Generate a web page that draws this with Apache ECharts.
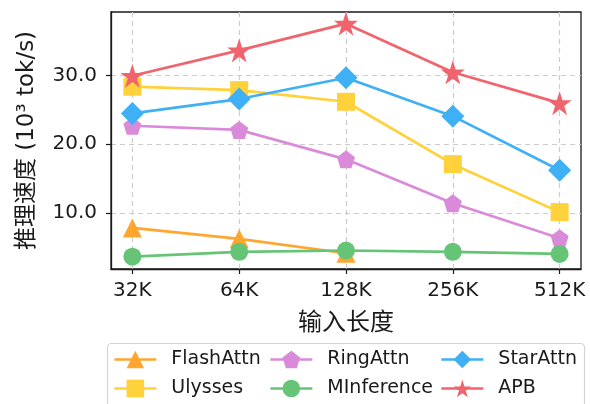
<!DOCTYPE html>
<html>
<head>
<meta charset="utf-8">
<script src="https://cdn.jsdelivr.net/npm/echarts@6/dist/echarts.min.js"></script>
<style>
  html, body { margin: 0; padding: 0; background: #fff; }
  #chart { width: 590px; height: 404px; }
</style>
</head>
<body>
<div id="chart"></div>
<script>
// Input lengths (x categories)
const categories = ['32K', '64K', '128K', '256K', '512K'];
// y-axis tick values (10^3 tok/s)
const yTicks = [10, 20, 30];

// Throughput per method, 10^3 tok/s
const flashAttn  = [7.8, 6.2, 4.1];
const ulysses    = [28.4, 27.9, 26.2, 17.1, 10.1];
const ringAttn   = [22.7, 22.1, 17.8, 11.4, 6.3];
const mInference = [3.6, 4.3, 4.5, 4.3, 4.0];
const starAttn   = [24.5, 26.6, 29.7, 24.1, 16.2];
const apb        = [30.0, 33.7, 37.6, 30.5, 26.0];

const FONT = "'DejaVu Sans', 'Noto Sans CJK SC', sans-serif";

// Marker shapes
function polygonPath(points) {
  return 'path://' + points.map((p, i) => (i ? 'L' : 'M') + p[0].toFixed(3) + ' ' + p[1].toFixed(3)).join(' ') + 'Z';
}
function starPath() {
  const pts = [];
  for (let i = 0; i < 10; i++) {
    const r = i % 2 === 0 ? 1 : 0.382;
    const a = -Math.PI / 2 + i * Math.PI / 5;
    pts.push([r * Math.cos(a), r * Math.sin(a)]);
  }
  return polygonPath(pts);
}
function pentagonPath() {
  const pts = [];
  for (let i = 0; i < 5; i++) {
    const a = -Math.PI / 2 + i * 2 * Math.PI / 5;
    pts.push([Math.cos(a), Math.sin(a)]);
  }
  return polygonPath(pts);
}

function toPoints(values) {
  return values.map((v, i) => [i, v]);
}

function lineSeries(name, values, color, symbol, size) {
  return {
    name: name,
    type: 'line',
    data: toPoints(values),
    symbol: symbol,
    symbolSize: size,
    showAllSymbol: true,
    clip: false,
    lineStyle: { color: color, width: 2.7 },
    itemStyle: { color: color, borderWidth: 0 },
    emphasis: { disabled: true }
  };
}

const legendBase = {
  orient: 'vertical',
  padding: 0,
  itemWidth: 42,
  itemHeight: 22,
  itemGap: 10,
  top: 350,
  height: 64,
  textStyle: { fontFamily: FONT, fontSize: 19, color: '#1a1a1a', padding: [0, 0, 0, 10] },
  lineStyle: { width: 2.7 },
  selectedMode: false
};

const chart = echarts.init(document.getElementById('chart'));
chart.setOption({
  animation: false,
  backgroundColor: '#fff',
  grid: {
    left: 111, right: 9, top: 12, bottom: 135,
    show: true, borderColor: '#1a1a1a', borderWidth: 1.3, backgroundColor: 'transparent'
  },
  xAxis: {
    type: 'value',
    min: -0.2,
    max: 4.2,
    name: '输入长度',
    nameLocation: 'middle',
    nameGap: 43,
    nameTextStyle: { fontFamily: FONT, fontSize: 24, color: '#1a1a1a' },
    axisLine: { show: true, onZero: false, lineStyle: { color: '#1a1a1a', width: 1.3 } },
    axisTick: { show: true, length: 5, lineStyle: { color: '#1a1a1a', width: 1.2 }, customValues: [0, 1, 2, 3, 4] },
    axisLabel: {
      customValues: [0, 1, 2, 3, 4],
      formatter: v => categories[Math.round(v)],
      fontFamily: FONT, fontSize: 20, color: '#1a1a1a', margin: 12
    },
    splitLine: { show: true, lineStyle: { color: '#cccccc', type: [5, 4], width: 1.2 } }
  },
  yAxis: {
    type: 'value',
    min: 1.8,
    max: 39.3,
    name: '推理速度 (10³ tok/s)',
    nameLocation: 'middle',
    nameRotate: 90,
    nameGap: 72,
    nameTextStyle: { fontFamily: FONT, fontSize: 23, color: '#1a1a1a' },
    axisLine: { show: true, onZero: false, lineStyle: { color: '#1a1a1a', width: 1.3 } },
    axisTick: { show: true, length: 5, lineStyle: { color: '#1a1a1a', width: 1.2 }, customValues: yTicks },
    axisLabel: {
      customValues: yTicks,
      formatter: v => v.toFixed(1),
      fontFamily: FONT, fontSize: 20, color: '#1a1a1a', margin: 14
    },
    splitLine: { show: true, lineStyle: { color: '#cccccc', type: [5, 4], width: 1.2 } }
  },
  legend: [
    Object.assign({}, legendBase, { left: 113, data: ['FlashAttn', 'Ulysses'] }),
    Object.assign({}, legendBase, { left: 269, data: ['RingAttn', 'MInference'] }),
    Object.assign({}, legendBase, { left: 440, data: ['StarAttn', 'APB'] })
  ],
  graphic: [{
    type: 'rect',
    shape: { x: 107.5, y: 343.5, width: 477, height: 80, r: 4 },
    style: { fill: 'transparent', stroke: '#d4d4d4', lineWidth: 1.2 },
    z: -1
  }],
  series: [
    lineSeries('FlashAttn', flashAttn, '#FFA630', 'triangle', 19),
    lineSeries('Ulysses', ulysses, '#FFD13A', 'rect', 18),
    lineSeries('RingAttn', ringAttn, '#D98BD9', pentagonPath(), 18),
    lineSeries('MInference', mInference, '#66C477', 'circle', 18),
    lineSeries('StarAttn', starAttn, '#3FB0F5', 'diamond', 23),
    lineSeries('APB', apb, '#F0646E', starPath(), 24)
  ]
});
</script>
</body>
</html>
